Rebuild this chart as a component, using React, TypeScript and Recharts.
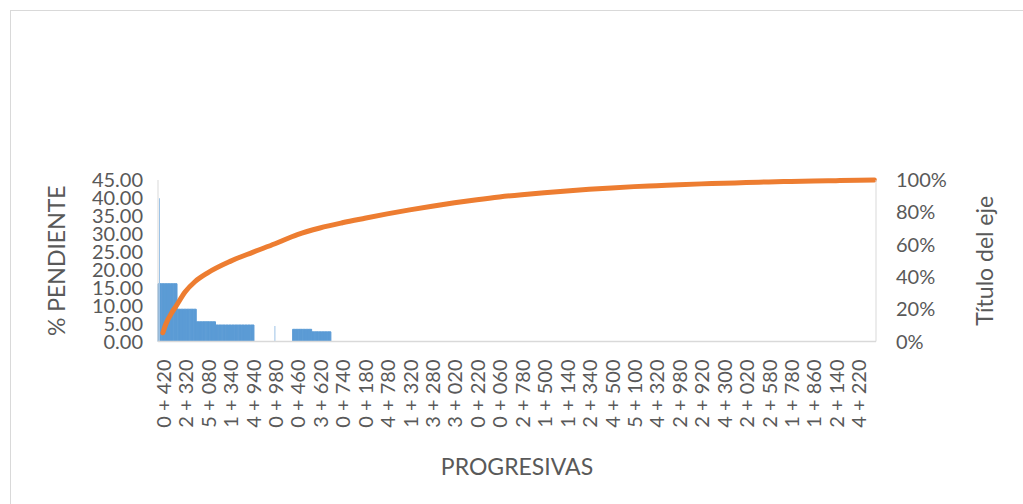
import React from "react";
import { ComposedChart, Bar, Line, XAxis, YAxis, Label } from "recharts";

// Progresivas printed under the axis, one every CATS_PER_LABEL sections
const progresivas = [
  "0 + 420", "2 + 320", "5 + 080", "1 + 340", "4 + 940", "0 + 980", "0 + 460", "3 + 620",
  "0 + 740", "0 + 180", "4 + 780", "1 + 320", "3 + 280", "3 + 020", "0 + 220", "0 + 060",
  "2 + 780", "1 + 500", "1 + 140", "2 + 340", "4 + 500", "5 + 100", "4 + 320", "2 + 980",
  "2 + 920", "4 + 300", "2 + 020", "2 + 580", "1 + 780", "1 + 860", "2 + 140", "4 + 220",
];
const CATS_PER_LABEL = 7;
const LABEL_OFFSET = 1;

// % pendiente, one value per block of CATS_PER_BLOCK sections
const CATS_PER_BLOCK = 6;
const pendienteBloques = [16.1, 9.0, 5.5, 4.6, 4.6, 0, 0, 3.4, 2.7];

// single sections with their own value
const picosCat = [0, 36];
const picosValor = [39.9, 4.3];

// cumulative percentage (right axis)
const acumuladoCat = [
  1, 2, 4, 5, 8, 11, 15, 22, 29, 36, 43, 50, 57, 64, 71, 78, 85, 92, 99, 106, 113, 120,
  127, 134, 141, 148, 155, 162, 169, 176, 183, 190, 197, 204, 211, 218, 223,
];
const acumuladoPct = [
  5.4, 11, 18.5, 21.5, 30.8, 37, 42.5, 49.6, 55.2, 60.5, 66.2, 70.3, 73.5, 76.3, 79.0, 81.5,
  83.8, 85.9, 87.8, 89.5, 90.9, 92.1, 93.2, 94.2, 95.1, 95.9, 96.5, 97.1, 97.6, 98.0, 98.4,
  98.8, 99.1, 99.4, 99.6, 99.8, 100,
];

const leftTicks = [0, 5, 10, 15, 20, 25, 30, 35, 40, 45];
const rightTicks = [0, 20, 40, 60, 80, 100];

const rows = Array.from({ length: progresivas.length * CATS_PER_LABEL }, (_, i) => {
  const p = picosCat.indexOf(i);
  const a = acumuladoCat.indexOf(i);
  return {
    idx: i,
    pendiente: pendienteBloques[Math.floor(i / CATS_PER_BLOCK)] ?? 0,
    pico: p >= 0 ? picosValor[p] : null,
    acumulado: a >= 0 ? acumuladoPct[a] : null,
  };
});

const labelTicks = progresivas.map((_, k) => LABEL_OFFSET + k * CATS_PER_LABEL);

const GREY = "#595959";
const FONT = "Lato, sans-serif";
const tickStyle = { fill: GREY, fontSize: 20, fontFamily: FONT };

const XTick = (props: any) => {
  const { x, y, payload } = props;
  const label = progresivas[(payload.value - LABEL_OFFSET) / CATS_PER_LABEL];
  return (
    <text
      x={x}
      y={y}
      transform={`rotate(-90 ${x} ${y})`}
      textAnchor="end"
      dominantBaseline="central"
      fill={GREY}
      fontSize={20}
      fontFamily={FONT}
    >
      {label}
    </text>
  );
};

export default function App() {
  return (
    <div style={{ position: "absolute", left: 0, top: 0, width: 1023, height: 504, background: "#fff", overflow: "hidden" }}>
      <div
        style={{
          position: "absolute",
          left: 10,
          top: 10,
          width: 1040,
          height: 520,
          borderTop: "1px solid #d9d9d9",
          borderLeft: "1px solid #d9d9d9",
        }}
      />
      <ComposedChart
        width={1023}
        height={504}
        data={rows}
        margin={{ top: 180, right: 47, left: 58, bottom: 72.5 }}
        barCategoryGap={0}
        barGap={0}
        style={{ position: "absolute", left: 0, top: 0 }}
      >
        <XAxis
          dataKey="idx"
          type="category"
          ticks={labelTicks}
          interval={0}
          height={90}
          tickLine={false}
          tickSize={6}
          tickMargin={12}
          axisLine={{ stroke: "#d9d9d9", strokeWidth: 1.5 }}
          tick={<XTick />}
        >
          <Label value="PROGRESIVAS" position="center" dy={80} fill={GREY} fontSize={23} fontFamily={FONT} />
        </XAxis>
        <XAxis xAxisId="picos" dataKey="idx" type="category" hide />
        <YAxis
          yAxisId="left"
          domain={[0, 45]}
          ticks={leftTicks}
          interval={0}
          width={100}
          tickLine={false}
          tickMargin={9}
          axisLine={{ stroke: "#d9d9d9" }}
          tick={tickStyle}
          tickFormatter={(v: number) => v.toFixed(2)}
        >
          <Label value="% PENDIENTE" angle={-90} position="center" dx={-51} fill={GREY} fontSize={23} fontFamily={FONT} />
        </YAxis>
        <YAxis
          yAxisId="right"
          orientation="right"
          domain={[0, 100]}
          ticks={rightTicks}
          interval={0}
          width={100}
          tickLine={false}
          tickMargin={14}
          axisLine={{ stroke: "#d9d9d9" }}
          tick={{ ...tickStyle, textAnchor: "start" }}
          tickFormatter={(v: number) => `${v}%`}
        >
          <Label value="Título del eje" angle={-90} position="center" dx={59} fill={GREY} fontSize={23} fontFamily={FONT} />
        </YAxis>
        <Bar
          yAxisId="left"
          dataKey="pendiente"
          fill="#5B9BD5"
          stroke="#5B9BD5"
          strokeWidth={1}
          isAnimationActive={false}
        />
        <Bar yAxisId="left" xAxisId="picos" dataKey="pico" fill="#9DC3E6" barSize={1} isAnimationActive={false} />
        <Line
          yAxisId="right"
          dataKey="acumulado"
          type="monotone"
          stroke="#ED7D31"
          strokeWidth={5}
          strokeLinecap="round"
          dot={false}
          connectNulls
          isAnimationActive={false}
        />
      </ComposedChart>
    </div>
  );
}
